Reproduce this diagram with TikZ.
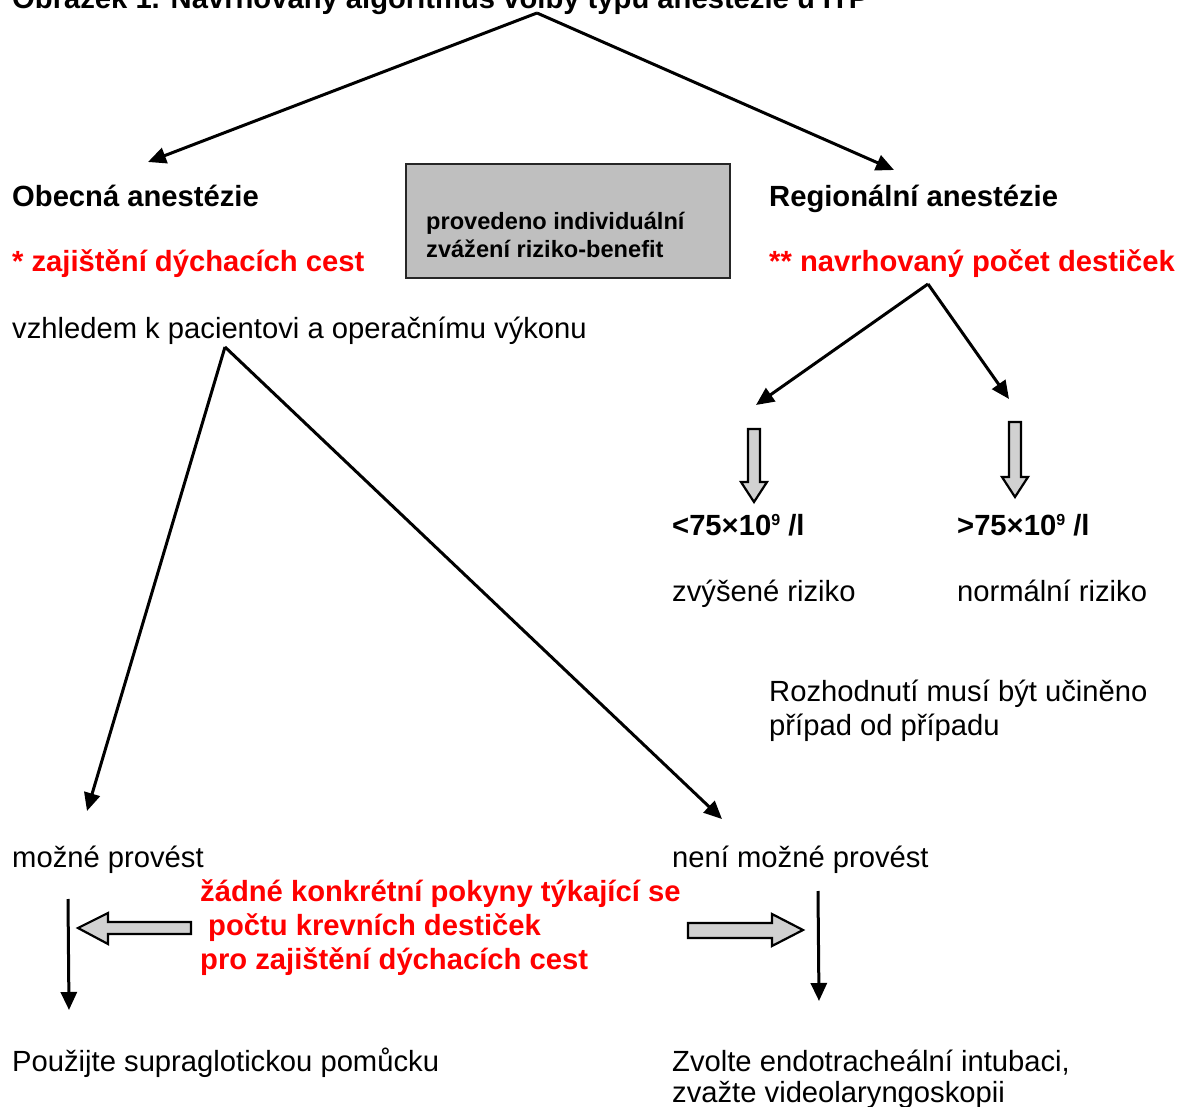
\documentclass[tikz,border=0pt]{standalone}
\usepackage{fontspec}
\setmainfont{Liberation Sans}
\usetikzlibrary{arrows.meta}
\newcommand{\supnine}{\raisebox{10pt}{\fontsize{16}{16}\selectfont 9}}
\begin{document}
\begin{tikzpicture}[x=1pt,y=-1pt,
  txt/.style={anchor=base west, inner sep=0pt, font=\fontsize{29.2}{34}\selectfont},
  btxt/.style={anchor=base west, inner sep=0pt, font=\fontsize{29.2}{34}\selectfont\bfseries},
  rtxt/.style={btxt, text=red},
  stxt/.style={anchor=base west, inner sep=0pt, font=\fontsize{23.6}{28}\selectfont\bfseries},
  conn/.style={line width=3pt, -{Triangle[length=18pt,width=16pt]}},
  blockarrow/.style={draw=black, line width=2.2pt, fill=black!18, line join=miter},
  greybox/.style={draw=black!85, line width=2pt, fill=black!25, anchor=north west,
    minimum width=324pt, minimum height=114pt, inner sep=0pt},
]
\fill[white] (0,0) rectangle (1179,1107);
\useasboundingbox (0,0) rectangle (1179,1107);

% title (cut off at top, as in the reference)
\node[btxt] (title) at (12,9) {Obrázek 1. Navrhovaný algoritmus volby typu anestézie u ITP};
\coordinate (apex) at (537,13);

% first level
\node[btxt] (obecna) at (12,207) {Obecná anestézie};
\node[btxt] (region) at (769,207) {Regionální anestézie};
\coordinate (obtip) at (148,162);
\coordinate (retip) at (894,170);
\draw[conn] (apex) -- (obtip);
\draw[conn] (apex) -- (retip);

% grey box
\node[greybox] (box) at (405,163) {};
\node[stxt] (boxl1) at (426,230) {provedeno individuální};
\node[stxt] (boxl2) at (426,258) {zvážení riziko-benefit};

% red notes
\node[rtxt] (airway) at (12,272) {* zajištění dýchacích cest};
\node[rtxt] (platelets) at (769,272) {** navrhovaný počet destiček};

% left branch
\node[txt] (vzhledem) at (12,339) {vzhledem k pacientovi a operačnímu výkonu};
\coordinate (vz) at (225,347);
\coordinate (vzl) at (87,811);
\coordinate (vzr) at (722,819);
\draw[conn] (vz) -- (vzl);
\draw[conn] (vz) -- (vzr);

% right branch
\coordinate (pl) at (928,284);
\coordinate (pll) at (756,405);
\coordinate (plr) at (1009,399);
\draw[conn] (pl) -- (pll);
\draw[conn] (pl) -- (plr);

% block arrows down
\draw[blockarrow] (748,429) -- (760,429) -- (760,482) -- (767,482) -- (754,502)
  -- (741,482) -- (748,482) -- cycle;
\draw[blockarrow] (1009,422) -- (1021,422) -- (1021,477) -- (1028,477) -- (1015,497)
  -- (1002,477) -- (1009,477) -- cycle;

\node[btxt] (low) at (672,535) {<75×10\supnine\ /l};
\node[btxt] (high) at (957,535) {>75×10\supnine\ /l};
\node[txt] (zvys) at (672,601) {zvýšené riziko};
\node[txt] (norm) at (957,601) {normální riziko};
\node[txt] (rozh1) at (769,701) {Rozhodnutí musí být učiněno};
\node[txt] (rozh2) at (769,735) {případ od případu};

% lower level
\node[txt] (mozne) at (12,867) {možné provést};
\node[txt] (nemozne) at (672,867) {není možné provést};

\node[rtxt] (red1) at (200,901) {žádné konkrétní pokyny týkající se};
\node[rtxt] (red2) at (208,935) {počtu krevních destiček};
\node[rtxt] (red3) at (200,969) {pro zajištění dýchacích cest};

% horizontal block arrows
\draw[blockarrow] (191,922) -- (108,922) -- (108,913) -- (78,928) -- (108,944)
  -- (108,934) -- (191,934) -- cycle;
\draw[blockarrow] (688,923) -- (772,923) -- (772,914) -- (803,930) -- (772,946)
  -- (772,938) -- (688,938) -- cycle;

% short vertical arrows
\coordinate (m1) at (68,899);
\coordinate (m2) at (69,1010);
\coordinate (n1) at (818,891);
\coordinate (n2) at (819,1001);
\draw[conn] (m1) -- (m2);
\draw[conn] (n1) -- (n2);

\node[txt] (supra) at (12,1071) {Použijte supraglotickou pomůcku};
\node[txt] (intub1) at (672,1071) {Zvolte endotracheální intubaci,};
\node[txt] (intub2) at (672,1102) {zvažte videolaryngoskopii};
\end{tikzpicture}
\end{document}
